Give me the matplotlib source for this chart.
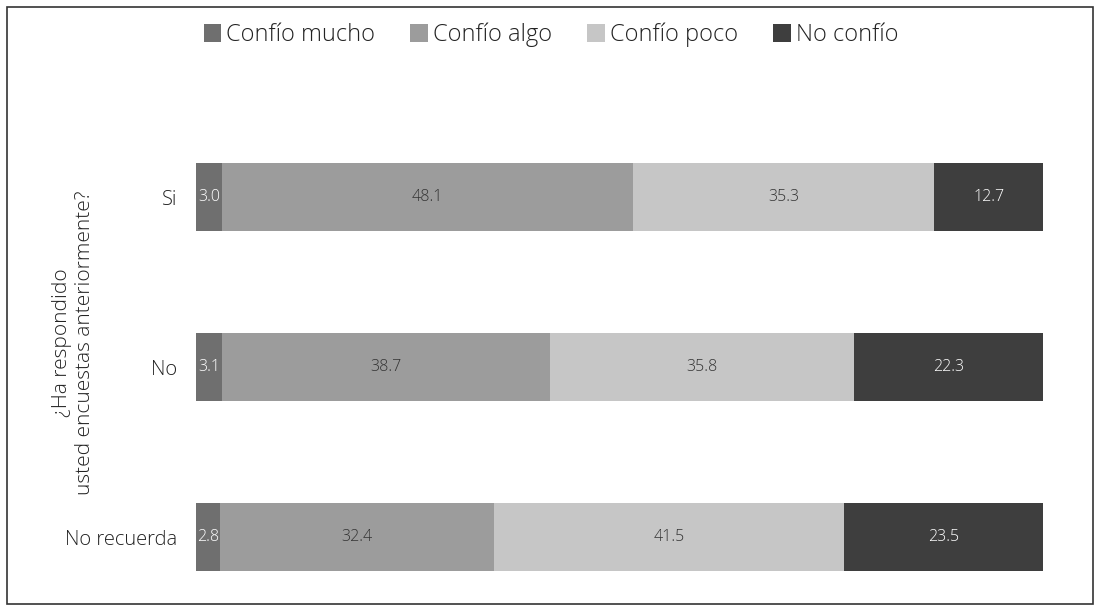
import matplotlib
matplotlib.use("Agg")
import matplotlib.pyplot as plt
from matplotlib.patches import Rectangle
import numpy as np

categories = ["Si", "No", "No recuerda"]
series = ["Confío mucho", "Confío algo", "Confío poco", "No confío"]
confio_mucho = [3.0, 3.1, 2.8]
confio_algo = [48.1, 38.7, 32.4]
confio_poco = [35.3, 35.8, 41.5]
no_confio = [12.7, 22.3, 23.5]
colors = ["#6f6f6f", "#9c9c9c", "#c6c6c6", "#3e3e3e"]
label_colors = ["white", "#333333", "#333333", "white"]
ylabel = "¿Ha respondido\nusted encuestas anteriormente?"

plt.rcParams['font.family'] = ['Open Sans', 'DejaVu Sans']
plt.rcParams['font.weight'] = 'light'

W, H = 1100, 611
fig = plt.figure(figsize=(W/100, H/100), dpi=100)
ax = fig.add_axes([196/W, 1-600/H, (1043-196)/W, (600-112)/H])

data = np.array([confio_mucho, confio_algo, confio_poco, no_confio])
totals = data.sum(axis=0)
pct = data / totals * 100
y = np.arange(len(categories))
left = np.zeros(len(categories))
handles = []
for i, name in enumerate(series):
    bars = ax.barh(y, pct[i], left=left, height=0.4, color=colors[i], label=name)
    handles.append(bars)
    for j in range(len(categories)):
        ax.text(left[j] + pct[i][j]/2, y[j], f"{data[i][j]:.1f}", ha="center", va="center",
                fontsize=11.5, color=label_colors[i], fontweight='light')
    left += pct[i]

ax.set_xlim(0, 100)
ax.set_ylim(2.37, -0.5)
ax.set_yticks(y)
ax.set_yticklabels(categories, fontsize=14.5, color="#222222")
ax.tick_params(axis='y', length=0, pad=13.7)
ax.set_xticks([])
for s in ax.spines.values():
    s.set_visible(False)

fig.text(74/W, 1-343/H, ylabel, rotation=90, ha="center", va="center", fontsize=15,
         color="#222222", linespacing=1.2, multialignment="center")

fig.legend(handles=handles, labels=series, loc="center", bbox_to_anchor=(551/W, 1-35/H),
           ncol=4, frameon=False, fontsize=17, handlelength=0.75, handleheight=0.85,
           handletextpad=0.2, columnspacing=1.5, labelcolor="#222222")

fig.patches.append(Rectangle((7/W, 1-604/H), (1093-7)/W, (604-7)/H, transform=fig.transFigure,
                             fill=False, edgecolor="#333333", linewidth=1.2))

fig.savefig("out.png", dpi=100)
